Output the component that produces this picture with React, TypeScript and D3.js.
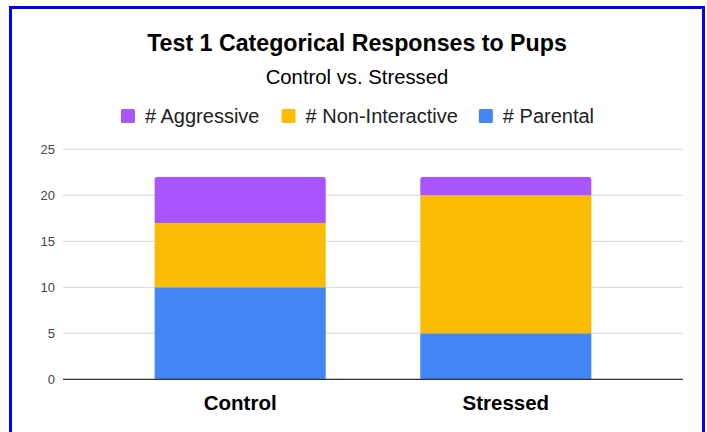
import React from "react";
import * as d3 from "d3";

const categories = ["Control", "Stressed"];
const seriesKeys = ["# Parental", "# Non-Interactive", "# Aggressive"];
const parental = [10, 5];
const nonInteractive = [7, 15];
const aggressive = [5, 2];
const yTicks = [0, 5, 10, 15, 20, 25];
const legendOrder = ["# Aggressive", "# Non-Interactive", "# Parental"];

const colors: Record<string, string> = {
  "# Parental": "#4285f4",
  "# Non-Interactive": "#fbbc04",
  "# Aggressive": "#a855ff",
};

const W = 707;
const H = 432;
const FONT = "'Liberation Sans', Arial, sans-serif";

let ctx: CanvasRenderingContext2D | null = null;
function textWidth(s: string, font: string) {
  if (!ctx) ctx = document.createElement("canvas").getContext("2d");
  if (!ctx) return s.length * 10;
  ctx.font = font;
  return ctx.measureText(s).width;
}

// rect with only the top corners rounded
function topRounded(x: number, y: number, w: number, h: number, r: number) {
  const p = d3.path();
  p.moveTo(x, y + h);
  p.lineTo(x, y + r);
  p.arcTo(x, y, x + r, y, r);
  p.lineTo(x + w - r, y);
  p.arcTo(x + w, y, x + w, y + r, r);
  p.lineTo(x + w, y + h);
  p.closePath();
  return p.toString();
}

export default function App() {
  const rows = categories.map((c, i) => ({
    cat: c,
    "# Parental": parental[i],
    "# Non-Interactive": nonInteractive[i],
    "# Aggressive": aggressive[i],
  }));
  const stacked = d3.stack<any>().keys(seriesKeys)(rows);

  const x = d3
    .scaleBand<string>()
    .domain(categories)
    .range([63, 683])
    .paddingInner(0.356)
    .paddingOuter(0.345);
  const y = d3.scaleLinear().domain([0, 25]).range([379.3, 149.3]);

  // legend layout
  const legendFont = `20px ${FONT}`;
  const sw = 14, gapText = 10, gapItem = 21;
  const widths = legendOrder.map((k) => textWidth(k, legendFont));
  const total = widths.reduce((a, b) => a + b, 0) + legendOrder.length * (sw + gapText) + (legendOrder.length - 1) * gapItem;
  let lx = 357.5 - total / 2;
  const legendItems = legendOrder.map((k, i) => {
    const item = { key: k, x: lx };
    lx += sw + gapText + widths[i] + gapItem;
    return item;
  });

  const top = stacked.length - 1;

  return (
    <svg
      width={W}
      height={H}
      style={{ position: "absolute", left: 0, top: 0, background: "#fff" }}
      fontFamily={FONT}
    >
      <rect x={0} y={0} width={W} height={H} fill="#fff" />
      <rect x={10.5} y={7.5} width={693} height={440} fill="none" stroke="#0000ff" strokeWidth={3} />

      <text x={357} y={50.5} textAnchor="middle" fontSize={23.2} fontWeight="bold" fill="#000">
        Test 1 Categorical Responses to Pups
      </text>
      <text x={357} y={83.5} textAnchor="middle" fontSize={20.3} fill="#000">
        Control vs. Stressed
      </text>

      {legendItems.map((it) => (
        <g key={it.key}>
          <rect x={it.x} y={109} width={sw} height={sw} rx={1.5} fill={colors[it.key]} />
          <text x={it.x + sw + gapText} y={123} fontSize={20} fill="#222">
            {it.key}
          </text>
        </g>
      ))}

      {yTicks.map((t) => (
        <g key={t}>
          {t !== 0 && (
            <line x1={63} x2={683} y1={y(t)} y2={y(t)} stroke="#d6d6d6" strokeWidth={1} />
          )}
          <text x={55} y={y(t) + 4.5} textAnchor="end" fontSize={13} fill="#444">
            {t}
          </text>
        </g>
      ))}

      {stacked.map((s, si) =>
        s.map((d, i) => {
          const x0 = x(categories[i]) as number;
          const yTop = y(d[1]);
          const h = y(d[0]) - y(d[1]);
          return si === top ? (
            <path key={s.key + i} d={topRounded(x0, yTop, x.bandwidth(), h, 2.5)} fill={colors[s.key]} />
          ) : (
            <rect key={s.key + i} x={x0} y={yTop} width={x.bandwidth()} height={h} fill={colors[s.key]} />
          );
        })
      )}

      <line x1={63} x2={683} y1={y(0)} y2={y(0)} stroke="#333" strokeWidth={1.3} />

      {categories.map((c) => (
        <text
          key={c}
          x={(x(c) as number) + x.bandwidth() / 2}
          y={410}
          textAnchor="middle"
          fontSize={20.5}
          fontWeight="bold"
          fill="#000"
        >
          {c}
        </text>
      ))}
    </svg>
  );
}
